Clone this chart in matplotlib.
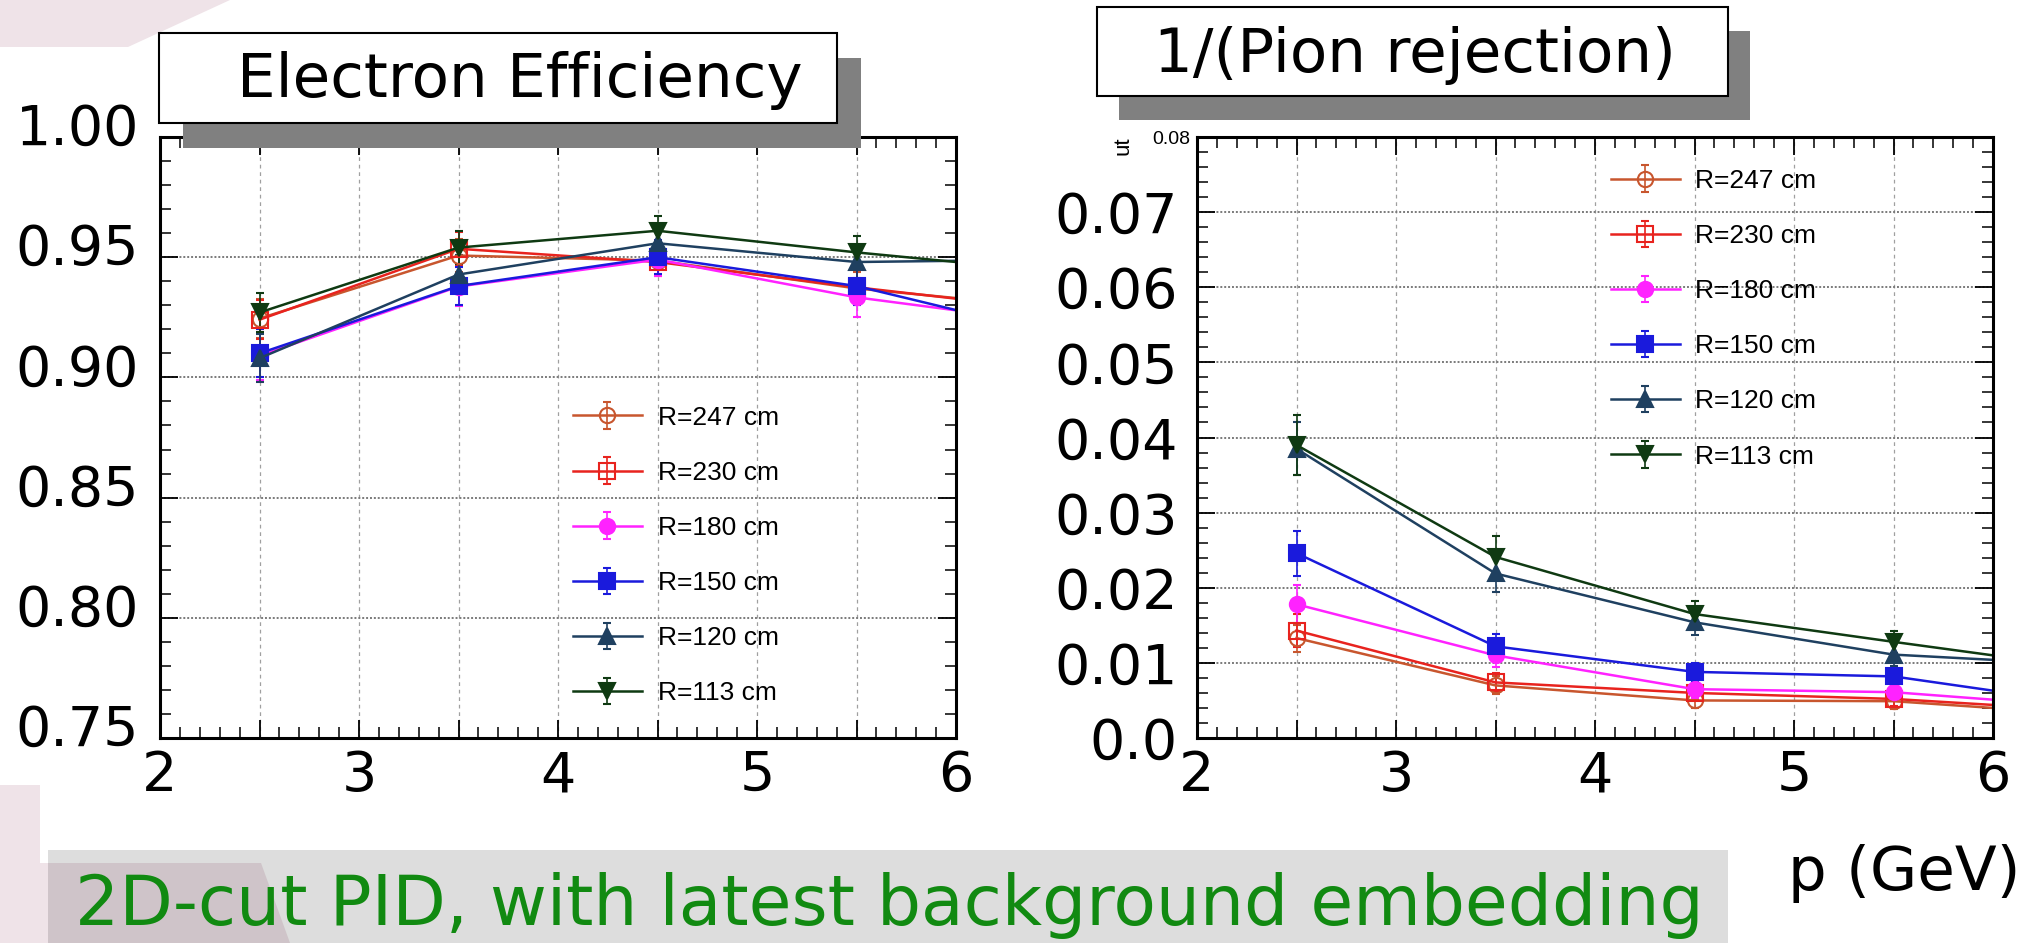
import matplotlib
matplotlib.use('Agg')
import matplotlib.pyplot as plt
from matplotlib.patches import Rectangle, Polygon
from matplotlib.ticker import MultipleLocator, FuncFormatter
from matplotlib.transforms import ScaledTranslation

# momentum bins (GeV); the last bin sits past the frame, its lines run off the edge
p = [2.5, 3.5, 4.5, 5.5, 6.5]
labels = ['R=247 cm', 'R=230 cm', 'R=180 cm', 'R=150 cm', 'R=120 cm', 'R=113 cm']

# electron efficiency
eff_247 = [0.9245, 0.9507, 0.9486, 0.9370, 0.9290]
eff_230 = [0.9240, 0.9535, 0.9480, 0.9375, 0.9280]
eff_180 = [0.9090, 0.9378, 0.9490, 0.9333, 0.9225]
eff_150 = [0.9100, 0.9380, 0.9500, 0.9380, 0.9180]
eff_120 = [0.9080, 0.9428, 0.9558, 0.9480, 0.9490]
eff_113 = [0.9270, 0.9540, 0.9610, 0.9520, 0.9440]
eff_err_247 = [0.008, 0.007, 0.006, 0.007, 0]
eff_err_230 = [0.008, 0.007, 0.006, 0.007, 0]
eff_err_180 = [0.010, 0.008, 0.007, 0.008, 0]
eff_err_150 = [0.010, 0.008, 0.007, 0.008, 0]
eff_err_120 = [0.010, 0.008, 0.006, 0.007, 0]
eff_err_113 = [0.008, 0.007, 0.006, 0.007, 0]

# 1/(pion rejection)
pi_247 = [0.0133, 0.0070, 0.0050, 0.0049, 0.0031]
pi_230 = [0.0143, 0.0074, 0.0060, 0.0052, 0.0036]
pi_180 = [0.0178, 0.0110, 0.0065, 0.0061, 0.0041]
pi_150 = [0.0246, 0.0122, 0.0088, 0.0082, 0.0044]
pi_120 = [0.0385, 0.0219, 0.0154, 0.0111, 0.0097]
pi_113 = [0.0390, 0.0241, 0.0165, 0.0128, 0.0092]
pi_err_247 = [0.0018, 0.0012, 0.0010, 0.0010, 0]
pi_err_230 = [0.0022, 0.0013, 0.0010, 0.0010, 0]
pi_err_180 = [0.0025, 0.0015, 0.0012, 0.0012, 0]
pi_err_150 = [0.0030, 0.0017, 0.0012, 0.0012, 0]
pi_err_120 = [0.0035, 0.0025, 0.0017, 0.0015, 0]
pi_err_113 = [0.0040, 0.0028, 0.0018, 0.0015, 0]

eff_ticks = [0.75, 0.80, 0.85, 0.90, 0.95, 1.00]
eff_ticklabels = ['0.75', '0.80', '0.85', '0.90', '0.95', '1.00']
pi_ticks = [0.0, 0.01, 0.02, 0.03, 0.04, 0.05, 0.06, 0.07, 0.08]
pi_ticklabels = ['0.0', '0.01', '0.02', '0.03', '0.04', '0.05', '0.06', '0.07', '']

colors = ['#c8562e', '#e8231e', '#ff22ff', '#1a1adc', '#1f4060', '#0f3a12']
markers = ['o', 's', 'o', 's', '^', 'v']
filled = [False, False, True, True, True, True]

W, H = 2030, 943
fig = plt.figure(figsize=(W / 100, H / 100), dpi=100)
fig.patch.set_facecolor('white')
narrow = ['Liberation Sans', 'DejaVu Sans']


def fx(x):
    return x / W


def fy(y):
    return 1 - y / H


def draw_panel(ax, series, errs, yticks, yticklabels, ylim, minor, label_shift, leg_anchor):
    for lab, y, e, c, m, f in zip(labels, series, errs, colors, markers, filled):
        ax.errorbar(p, y, yerr=e, color=c, marker=m, ms=11, mfc=c if f else 'none',
                    mec=c, mew=1.5, lw=1.8, elinewidth=1.2, capsize=3, label=lab)
    ax.set_xlim(2, 6)
    ax.set_ylim(*ylim)
    ax.xaxis.set_major_locator(MultipleLocator(0.5))
    ax.xaxis.set_minor_locator(MultipleLocator(0.1))
    ax.xaxis.set_major_formatter(FuncFormatter(
        lambda v, pos: '%d' % round(v) if abs(v - round(v)) < 1e-6 else ''))
    ax.set_yticks(yticks)
    ax.set_yticklabels(yticklabels)
    ax.yaxis.set_minor_locator(MultipleLocator(minor))
    ax.tick_params(which='both', direction='in', top=True, right=True, labelsize=40)
    ax.tick_params(which='major', length=13, width=1.3)
    ax.tick_params(which='minor', length=8, width=1.1)
    ax.tick_params(axis='x', pad=8)
    ax.tick_params(axis='y', pad=15)
    for s in ax.spines.values():
        s.set_linewidth(2.2)
    ax.set_axisbelow(True)
    ax.xaxis.grid(True, which='major', color='#a0a0a0', ls=(0, (3, 3)), lw=0.9)
    ax.yaxis.grid(True, which='major', color='#7a7a7a', ls=(0, (1, 1)), lw=1.4)
    for t in ax.get_yticklabels():
        t.set_transform(t.get_transform() + ScaledTranslation(0, label_shift / 100, fig.dpi_scale_trans))
    ax.legend(loc='upper left', bbox_to_anchor=leg_anchor, frameon=False, borderpad=0,
              borderaxespad=0, handlelength=2.6, handletextpad=0.6, labelspacing=1.18,
              prop={'family': narrow, 'size': 19})


# left panel: electron efficiency
ax1 = fig.add_axes([fx(160), fy(738), (956 - 160) / W, 601 / H])
draw_panel(ax1, [eff_247, eff_230, eff_180, eff_150, eff_120, eff_113],
           [eff_err_247, eff_err_230, eff_err_180, eff_err_150, eff_err_120, eff_err_113],
           eff_ticks, eff_ticklabels, (0.75, 1.00), 0.01, 13, (0.519, 0.553))

# right panel: 1/(pion rejection)
ax2 = fig.add_axes([fx(1197), fy(738), (1993 - 1197) / W, 601 / H])
draw_panel(ax2, [pi_247, pi_230, pi_180, pi_150, pi_120, pi_113],
           [pi_err_247, pi_err_230, pi_err_180, pi_err_150, pi_err_120, pi_err_113],
           pi_ticks, pi_ticklabels, (0.0, 0.08), 0.002, 4, (0.520, 0.947))
ax2.tick_params(axis='y', pad=14)
fig.text(fx(1190), fy(139), '0.08', ha='right', va='center', fontsize=14, family=narrow)
fig.text(fx(1123), fy(146), 'ut', ha='center', va='center', fontsize=16, rotation=90, family=narrow)

# slide decorations
fig.add_artist(Polygon([(0, 1), (fx(230), 1), (fx(128), fy(47)), (0, fy(47))],
                       closed=True, transform=fig.transFigure, fc='#efe3e8', ec='none', zorder=1))
fig.add_artist(Polygon([(0, fy(785)), (fx(40), fy(785)), (fx(40), fy(863)), (fx(261), fy(863)),
                        (fx(290), 0), (0, 0)],
                       closed=True, transform=fig.transFigure, fc='#efe3e8', ec='none', zorder=1))
fig.add_artist(Rectangle((fx(48), 0), (1728 - 48) / W, fy(850), transform=fig.transFigure,
                         fc='black', alpha=0.135, ec='none', zorder=2))
fig.text(fx(75), fy(925), '2D-cut PID, with latest background embedding', color='#118a11',
         fontsize=50, ha='left', va='baseline', zorder=3)
fig.text(fx(1788), fy(890), 'p (GeV)', color='black', fontsize=44, ha='left', va='baseline')


def title_box(x0, y0, x1, y1, sx, sy, text, tx, ty):
    fig.add_artist(Rectangle((fx(x0 + sx), fy(y1 + sy)), (x1 - x0) / W, (y1 - y0) / H,
                             transform=fig.transFigure, fc='#808080', ec='none', zorder=5))
    fig.add_artist(Rectangle((fx(x0), fy(y1)), (x1 - x0) / W, (y1 - y0) / H,
                             transform=fig.transFigure, fc='white', ec='black', lw=1.5, zorder=6))
    fig.text(fx(tx), fy(ty), text, fontsize=44, ha='left', va='baseline', zorder=7)


title_box(159, 33, 837, 123, 24, 25, 'Electron Efficiency', 237, 97)
title_box(1097, 7, 1728, 96, 22, 24, '1/(Pion rejection)', 1154, 72)

fig.savefig('out.png', dpi=100)
